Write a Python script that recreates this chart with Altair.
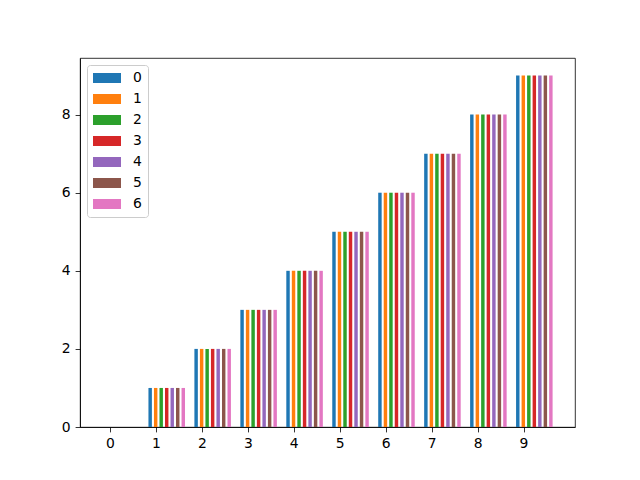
import altair as alt
import pandas as pd

# ---- data ----
categories = [0, 1, 2, 3, 4, 5, 6, 7, 8, 9]
series_names = ["0", "1", "2", "3", "4", "5", "6"]
values_0 = [0, 1, 2, 3, 4, 5, 6, 7, 8, 9]
values_1 = [0, 1, 2, 3, 4, 5, 6, 7, 8, 9]
values_2 = [0, 1, 2, 3, 4, 5, 6, 7, 8, 9]
values_3 = [0, 1, 2, 3, 4, 5, 6, 7, 8, 9]
values_4 = [0, 1, 2, 3, 4, 5, 6, 7, 8, 9]
values_5 = [0, 1, 2, 3, 4, 5, 6, 7, 8, 9]
values_6 = [0, 1, 2, 3, 4, 5, 6, 7, 8, 9]
all_values = [values_0, values_1, values_2, values_3, values_4, values_5, values_6]
y_ticks = [0, 2, 4, 6, 8]

colors = ["#1f77b4", "#ff7f0e", "#2ca02c", "#d62728", "#9467bd", "#8c564b", "#e377c2"]

rows = []
for si, (name, vals) in enumerate(zip(series_names, all_values)):
    for c, v in zip(categories, vals):
        rows.append({"cat": c, "series": name, "idx": si, "value": v})
df = pd.DataFrame(rows)

# layout / style constants
BAR_START = -0.125
BAR_STEP = 0.12
BAR_WIDTH = 0.075
FONT = "DejaVu Sans"
FS = 13.9

chart = (
    alt.Chart(df)
    .transform_calculate(
        x0=f"datum.cat + {BAR_START} + datum.idx * {BAR_STEP} - {BAR_WIDTH / 2}",
        x1=f"datum.cat + {BAR_START} + datum.idx * {BAR_STEP} + {BAR_WIDTH / 2}",
    )
    .mark_rect()
    .encode(
        x=alt.X(
            "x0:Q",
            scale=alt.Scale(domain=[-0.652, 10.12], nice=False, zero=False),
            axis=alt.Axis(values=categories, format="d", title=None, grid=False),
        ),
        x2="x1:Q",
        y=alt.Y(
            "value:Q",
            scale=alt.Scale(domain=[0, 9.45], nice=False),
            axis=alt.Axis(values=y_ticks, format="d", title=None, grid=False),
        ),
        y2=alt.datum(0),
        color=alt.Color(
            "series:N",
            scale=alt.Scale(domain=series_names, range=colors),
            legend=alt.Legend(
                title=None,
                orient="none",
                legendX=7,
                legendY=7,
                symbolType="M-2,-0.714L2,-0.714L2,0.714L-2,0.714Z",
                symbolSize=196,
                symbolOffset=7,
                symbolStrokeWidth=0,
                symbolOpacity=1,
                labelOffset=19,
                labelFont=FONT,
                labelFontSize=FS,
                labelColor="black",
                padding=6,
                rowPadding=7,
                strokeColor="#cccccc",
                fillColor="rgba(255,255,255,0.8)",
                cornerRadius=3,
            ),
        ),
    )
    .properties(
        width=495,
        height=369,
        autosize=alt.AutoSizeParams(type="none"),
        padding={"left": 72, "top": 50, "right": 57, "bottom": 45},
    )
    .configure_view(stroke="black", strokeWidth=0.8)
    .configure_axis(
        domainColor="black",
        domainWidth=0.8,
        tickColor="black",
        tickWidth=0.8,
        tickSize=4.9,
        labelPadding=4.9,
        labelFont=FONT,
        labelFontSize=FS,
        labelColor="black",
    )
)

chart.save("out.html", embed_options={"renderer": "svg", "actions": False})
